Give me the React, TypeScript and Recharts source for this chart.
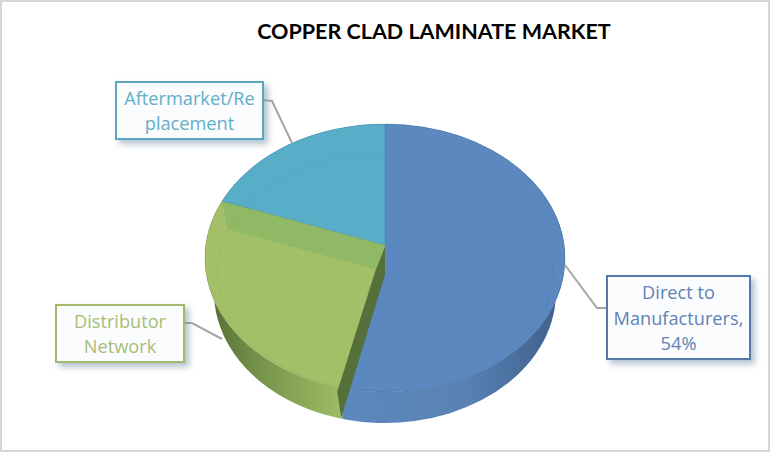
import { Pie, PieChart } from "recharts";

const names = ["Direct to Manufacturers", "Distributor Network", "Aftermarket/Replacement"];
const shares = [54, 28, 18];
const labelLines = [["Direct to", "Manufacturers,", "54%"], ["Distributor", "Network"], ["Aftermarket/Re", "placement"]];

const data = names.map((name, i) => ({ name, value: shares[i] }));

const topColors = ["#5b88bf", "#a3c068", "#58adc8"];
const rimColors = ["#3f6797", "#7f9c4c", "#3f8aa5"];
const sideFills = ["url(#sideBlue)", "url(#sideGreen)", "url(#sideTeal)"];
const textColors = ["#5f83b3", "#a7bd78", "#62aec6"];
const boxColors = ["#5379a8", "#a3b86c", "#5ca6bd"];

// callout boxes and the leader line leaving each one
const boxes = [
  { x: 607, y: 276, w: 143, h: 83, line: "607,308 597,308 565,265" },
  { x: 56, y: 305, w: 128, h: 57, line: "184,323 192,323 222,339" },
  { x: 116, y: 82, w: 147, h: 57, line: "263,100 272,101 292,143" },
];

const squash = 134 / 180;
const apexLift = 13;
// the base of the pie sits lower and is a little narrower than the top face
const baseDrop = 34;
const baseInset = 9;
const baseRy = 131;
const RAD = Math.PI / 180;

const rimPoint = (cx: number, cy: number, rx: number, ry: number, deg: number) => [
  cx + rx * Math.cos(deg * RAD),
  cy - ry * Math.sin(deg * RAD),
];

const SideShape = (props: any) => {
  const { cx, cy, outerRadius: rx, startAngle, endAngle, name } = props;
  const i = names.indexOf(name);
  const ry = rx * squash;
  const bx = rx - baseInset;
  const [x1, y1] = rimPoint(cx, cy, rx, ry, startAngle);
  const [x2, y2] = rimPoint(cx, cy, rx, ry, endAngle);
  const [bx1, by1] = rimPoint(cx, cy + baseDrop, bx, baseRy, startAngle);
  const [bx2, by2] = rimPoint(cx, cy + baseDrop, bx, baseRy, endAngle);
  const large = Math.abs(startAngle - endAngle) > 180 ? 1 : 0;
  const d = `M${x1},${y1} A${rx},${ry} 0 ${large} 1 ${x2},${y2} L${bx2},${by2} A${bx},${baseRy} 0 ${large} 0 ${bx1},${by1} Z`;
  return <path d={d} fill={sideFills[i]} />;
};

const TopShape = (props: any) => {
  const { cx, cy, outerRadius: rx, startAngle, endAngle, name } = props;
  const i = names.indexOf(name);
  const ry = rx * squash;
  const [x1, y1] = rimPoint(cx, cy, rx, ry, startAngle);
  const [x2, y2] = rimPoint(cx, cy, rx, ry, endAngle);
  const large = Math.abs(startAngle - endAngle) > 180 ? 1 : 0;
  const apexY = cy - apexLift;
  const d = `M${cx},${apexY} L${x1},${y1} A${rx},${ry} 0 ${large} 1 ${x2},${y2} Z`;
  // faint bevel ring just inside the rim
  const [ix1, iy1] = rimPoint(cx, cy + 14, rx - 12, 119, startAngle);
  const [ix2, iy2] = rimPoint(cx, cy + 14, rx - 12, 119, endAngle);
  return (
    <g>
      <path d={d} fill={topColors[i]} stroke={rimColors[i]} strokeWidth={0.6} strokeOpacity={0.6} />
      <path
        d={`M${ix1},${iy1} A${rx - 12},119 0 ${large} 1 ${ix2},${iy2}`}
        fill="none"
        stroke={rimColors[i]}
        strokeWidth={0.7}
        strokeOpacity={0.22}
      />
      {i === 1 && (
        <>
          <polygon
            points={`${x2},${y2} ${cx},${apexY} ${cx},${apexY + 27} ${x2 + 5},${y2 + 28}`}
            fill="#8fb964"
          />
          <polygon
            points={`${cx},${apexY + 2} ${cx},${apexY + 30} ${x1 + 1},${y1 + 30} ${x1 - 3},${y1 + 4} ${cx - 10},${apexY + 27}`}
            fill="#55703a"
          />
        </>
      )}
    </g>
  );
};

const Callout = (props: any) => {
  const i = props.index;
  const b = boxes[i];
  const lines = labelLines[i];
  const mid = b.y + b.h / 2;
  return (
    <g>
      <polyline points={b.line} fill="none" stroke="#a6a6a6" strokeWidth={2} />
      <rect x={b.x} y={b.y} width={b.w} height={b.h} fill="#fbfcfd" stroke={boxColors[i]} strokeWidth={2} filter="url(#boxShadow)" />
      <text
        x={b.x + b.w / 2}
        textAnchor="middle"
        fontFamily="'Open Sans', sans-serif"
        fontSize={18.2}
        fill={textColors[i]}
      >
        {lines.map((line, k) => (
          <tspan key={k} x={b.x + b.w / 2} y={mid + (k - (lines.length - 1) / 2) * 25.5 + 7}>
            {line}
          </tspan>
        ))}
      </text>
    </g>
  );
};

export default function App() {
  return (
    <div style={{ position: "absolute", left: 0, top: 0, width: 770, height: 452, background: "#fff" }}>
      <PieChart width={770} height={452} margin={{ top: 0, right: 0, bottom: 0, left: 0 }}>
        <defs>
          <linearGradient id="sideBlue" gradientUnits="userSpaceOnUse" x1="337" y1="0" x2="565" y2="0">
            <stop offset="0%" stopColor="#5d88bd" />
            <stop offset="55%" stopColor="#5a82b4" />
            <stop offset="100%" stopColor="#3c5f8a" />
          </linearGradient>
          <linearGradient id="sideGreen" gradientUnits="userSpaceOnUse" x1="205" y1="0" x2="337" y2="0">
            <stop offset="0%" stopColor="#546d34" />
            <stop offset="50%" stopColor="#7c9a4e" />
            <stop offset="100%" stopColor="#9cb964" />
          </linearGradient>
          <linearGradient id="sideTeal" gradientUnits="userSpaceOnUse" x1="205" y1="0" x2="385" y2="0">
            <stop offset="0%" stopColor="#3f8aa5" />
            <stop offset="100%" stopColor="#3f8aa5" />
          </linearGradient>
          <filter id="boxShadow" x="-15%" y="-15%" width="135%" height="145%">
            <feDropShadow dx={4} dy={4} stdDeviation={3} floodColor="#6f8fa8" floodOpacity={0.55} />
          </filter>
        </defs>
        <text
          x={434}
          y={39}
          textAnchor="middle"
          fontFamily="Lato, sans-serif"
          fontWeight={700}
          fontSize={21.5}
          fill="#000"
        >
          COPPER CLAD LAMINATE MARKET
        </text>
        <Pie
          data={data}
          dataKey="value"
          nameKey="name"
          cx={385}
          cy={258}
          outerRadius={180}
          startAngle={90}
          endAngle={-270}
          stroke="none"
          shape={SideShape}
          isAnimationActive={false}
        />
        <Pie
          data={data}
          dataKey="value"
          nameKey="name"
          cx={385}
          cy={258}
          outerRadius={180}
          startAngle={90}
          endAngle={-270}
          stroke="none"
          shape={TopShape}
          label={Callout}
          labelLine={false}
          isAnimationActive={false}
        />
      </PieChart>
      <div
        style={{
          position: "absolute",
          left: 0,
          top: 0,
          width: 770,
          height: 452,
          boxSizing: "border-box",
          border: "2px solid #d6d6d6",
          pointerEvents: "none",
        }}
      />
    </div>
  );
}
